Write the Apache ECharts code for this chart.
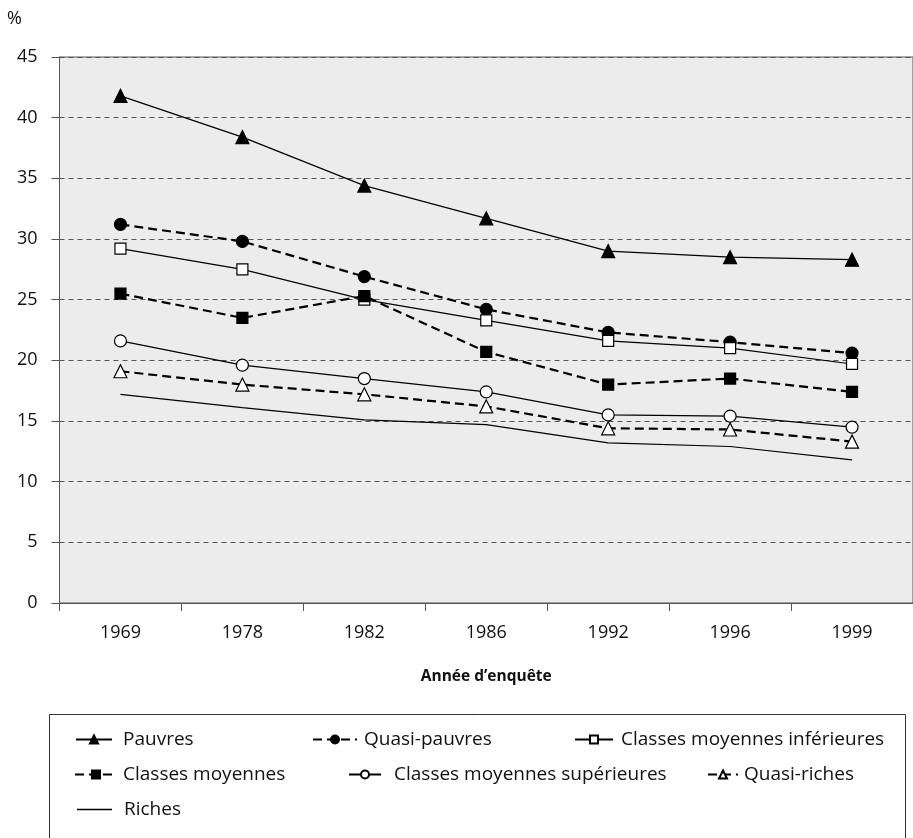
<!DOCTYPE html>
<html><head><meta charset="utf-8">
<script src="https://cdn.jsdelivr.net/npm/echarts@6/dist/echarts.min.js"></script>
<style>html,body{margin:0;padding:0;background:#fff}#c{width:913px;height:838px}</style>
</head><body><div id="c"></div>
<script>
const years = ['1969', '1978', '1982', '1986', '1992', '1996', '1999'];
const yTicks = [0, 5, 10, 15, 20, 25, 30, 35, 40, 45];
const pauvres = [41.8, 38.4, 34.4, 31.7, 29.0, 28.5, 28.3];
const quasiPauvres = [31.2, 29.8, 26.9, 24.2, 22.3, 21.5, 20.6];
const classesMoyInf = [29.2, 27.5, 25.0, 23.3, 21.6, 21.0, 19.7];
const classesMoy = [25.5, 23.5, 25.3, 20.7, 18.0, 18.5, 17.4];
const classesMoySup = [21.6, 19.6, 18.5, 17.4, 15.5, 15.4, 14.5];
const quasiRiches = [19.1, 18.0, 17.2, 16.2, 14.4, 14.3, 13.3];
const riches = [17.2, 16.1, 15.1, 14.7, 13.2, 12.9, 11.8];

const FONT = '"Open Sans", "Noto Sans", sans-serif';
const DASH = [9, 5];

function mk(name, data, dashed, symbol, filled, size) {
  return {
    name: name, type: 'line', data: data,
    symbol: symbol || 'none',
    symbolSize: size || 11,
    showSymbol: !!symbol,
    lineStyle: { color: '#000', width: dashed ? 2.2 : 1.2, type: dashed ? DASH : 'solid' },
    itemStyle: { color: filled ? '#000' : '#fff', borderColor: '#000', borderWidth: 1.2 },
    emphasis: { disabled: true },
    z: 3
  };
}

const series = [
  mk('Pauvres', pauvres, false, 'triangle', true, 13),
  mk('Quasi-pauvres', quasiPauvres, true, 'circle', true, 12),
  mk('Classes moyennes inférieures', classesMoyInf, false, 'rect', false, 11),
  mk('Classes moyennes', classesMoy, true, 'rect', true, 11),
  mk('Classes moyennes supérieures', classesMoySup, false, 'circle', false, 12),
  mk('Quasi-riches', quasiRiches, true, 'triangle', false, 13),
  mk('Riches', riches, false, null, true, 0)
];

function leg(name, left, top, w, pad, extra) {
  return Object.assign({
    data: [name], left: left, top: top, orient: 'horizontal', padding: 0,
    itemWidth: w, itemHeight: 10, selectedMode: false,
    textStyle: { fontSize: 19, color: '#111', fontFamily: FONT, padding: [0, 0, 0, pad] }
  }, extra || {});
}

const chart = echarts.init(document.getElementById('c'), null, { renderer: 'canvas' });
chart.setOption({
  animation: false,
  backgroundColor: '#fff',
  title: { text: '%', left: 7, top: 10, padding: 0, textStyle: { fontSize: 18, fontWeight: 'normal', color: '#111', fontFamily: FONT } },
  grid: { left: 59.5, top: 57, width: 860, height: 546, show: true, backgroundColor: '#ececec', borderColor: '#555', borderWidth: 1 },
  xAxis: {
    type: 'category', data: years, boundaryGap: true,
    name: 'Année d’enquête', nameLocation: 'middle', nameGap: 66,
    nameTextStyle: { fontSize: 15.5, fontWeight: 'bold', color: '#111', fontFamily: FONT },
    axisLine: { lineStyle: { color: '#555', width: 1 } },
    axisTick: { show: true, length: 8, inside: false, lineStyle: { color: '#555' } },
    axisLabel: { fontSize: 18, color: '#111', margin: 21, fontFamily: FONT },
    splitLine: { show: false }
  },
  yAxis: {
    type: 'value', min: yTicks[0], max: yTicks[yTicks.length - 1], interval: 5,
    axisLine: { show: true, lineStyle: { color: '#555', width: 1 } },
    axisTick: { show: true, length: 8, inside: false, lineStyle: { color: '#555' } },
    axisLabel: { fontSize: 18, color: '#111', margin: 22, fontFamily: FONT },
    splitLine: { show: true, lineStyle: { color: '#555', type: [5, 4], width: 1 } }
  },
  legend: [
    leg('Pauvres', 75, 730, 36, 6),
    leg('Quasi-pauvres', 312, 730, 44, 2),
    leg('Classes moyennes inférieures', 574, 730, 38, 3),
    leg('Classes moyennes', 74, 765, 42, 1),
    leg('Classes moyennes supérieures', 348, 765, 32, 8),
    leg('Quasi-riches', 707, 765, 30, 1),
    leg('Riches', 77, 800, 35, 7, { icon: 'rect', itemHeight: 1.3, itemStyle: { color: '#000', borderWidth: 0 } })
  ],
  graphic: [{
    type: 'rect', left: 47, top: 712, silent: true,
    shape: { x: 0, y: 0, width: 856, height: 200 },
    style: { fill: 'none', stroke: '#333', lineWidth: 1 }
  }],
  series: series
});
</script>
</body></html>
